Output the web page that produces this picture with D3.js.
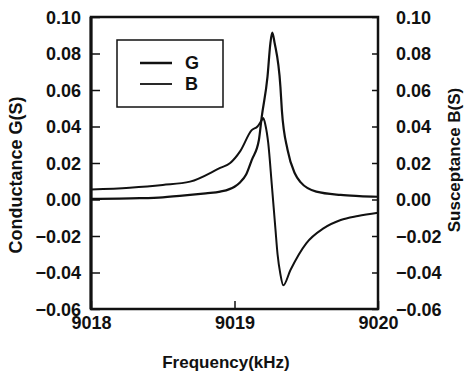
<!DOCTYPE html>
<html>
<head>
<meta charset="utf-8">
<script src="https://cdn.jsdelivr.net/npm/d3@7"></script>
<style>
html,body{margin:0;padding:0;background:#fff;}
svg text{font-family:"Liberation Sans",Arial,sans-serif;font-weight:bold;fill:#111;}
</style>
</head>
<body>
<svg id="chart" width="465" height="377"></svg>
<script>
// Conductance G (S)
const gFreq = [9018.00, 9018.34, 9018.50, 9018.69, 9018.80, 9018.90, 9019.00, 9019.04, 9019.08, 9019.12, 9019.17, 9019.19, 9019.23, 9019.25, 9019.263, 9019.28, 9019.32, 9019.33, 9019.37, 9019.42, 9019.46, 9019.57, 9019.74, 9019.87, 9020.00];
const gValues = [0.0003, 0.0007, 0.0012, 0.0025, 0.0034, 0.0043, 0.0070, 0.0095, 0.0135, 0.0216, 0.0326, 0.0454, 0.0673, 0.0856, 0.0914, 0.0856, 0.0618, 0.0490, 0.0271, 0.0144, 0.0095, 0.0043, 0.0025, 0.0019, 0.0015];
// Susceptance B (S)
const bFreq = [9018.00, 9018.27, 9018.50, 9018.69, 9018.90, 9018.97, 9019.04, 9019.12, 9019.16, 9019.19, 9019.20, 9019.215, 9019.235, 9019.26, 9019.285, 9019.30, 9019.32, 9019.34, 9019.39, 9019.50, 9019.62, 9019.74, 9019.86, 9020.00];
const bValues = [0.0055, 0.0065, 0.0080, 0.0098, 0.0173, 0.0200, 0.0265, 0.0380, 0.0400, 0.0435, 0.0446, 0.0410, 0.0310, 0.0080, -0.0160, -0.0300, -0.0410, -0.0470, -0.0386, -0.0240, -0.0158, -0.0112, -0.0090, -0.0072];
const xTicks = [9018, 9019, 9020];
const yTicks = [-0.06, -0.04, -0.02, 0.00, 0.02, 0.04, 0.06, 0.08, 0.10];
const legendLabels = ["G", "B"];

const svg = d3.select("#chart");
const L = 91, R = 378, T = 17, B = 309;
const x = d3.scaleLinear().domain([9018, 9020]).range([L, R]);
const y = d3.scaleLinear().domain([-0.06, 0.10]).range([B, T]);
const tickFs = "18px";

// Curves
const line = d3.line().x(d => x(d[0])).y(d => y(d[1])).curve(d3.curveMonotoneX);
const gData = gFreq.map((f, i) => [f, gValues[i]]);
const bData = bFreq.map((f, i) => [f, bValues[i]]);
svg.append("path").datum(bData).attr("d", line).attr("fill", "none").attr("stroke", "#111").attr("stroke-width", 2);
svg.append("path").datum(gData).attr("d", line).attr("fill", "none").attr("stroke", "#111").attr("stroke-width", 2.2);

// Left axis
const leftAxis = svg.append("g").attr("transform", `translate(${L},0)`)
  .call(d3.axisLeft(y).tickValues(yTicks).tickSize(-9).tickPadding(10).tickFormat(d3.format(".2f")));
// Right axis
const rightAxis = svg.append("g").attr("transform", `translate(${R},0)`)
  .call(d3.axisRight(y).tickValues(yTicks).tickSize(-6).tickPadding(18).tickFormat(d3.format(".2f")));
// Bottom axis
const bottomAxis = svg.append("g").attr("transform", `translate(0,${B})`)
  .call(d3.axisBottom(x).tickValues(xTicks).tickSize(-8).tickPadding(7).tickFormat(d3.format("d")));

[leftAxis, rightAxis, bottomAxis].forEach(a => {
  a.select(".domain").remove();
  a.selectAll(".tick line").attr("stroke", "#111").attr("stroke-width", 1.5);
  a.selectAll(".tick text").style("font-size", tickFs).attr("fill", "#111");
});
leftAxis.selectAll(".tick text").attr("dy", "0.36em");
rightAxis.selectAll(".tick text").attr("dy", "0.36em");
bottomAxis.selectAll(".tick text").attr("dy", "0.71em");

// Frame
svg.append("rect").attr("x", L).attr("y", T).attr("width", R - L).attr("height", B - T)
  .attr("fill", "none").attr("stroke", "#111").attr("stroke-width", 2.5);
svg.append("line").attr("x1", L).attr("x2", L).attr("y1", T).attr("y2", B).attr("stroke", "#111").attr("stroke-width", 3);

// Axis titles
svg.append("text").attr("x", 226).attr("y", 368).attr("text-anchor", "middle").style("font-size", "17px").text("Frequency(kHz)");
svg.append("text").attr("transform", "translate(22,175) rotate(-90)").attr("text-anchor", "middle").style("font-size", "18px").text("Conductance G(S)");
svg.append("text").attr("transform", "translate(460,160) rotate(-90)").attr("text-anchor", "middle").style("font-size", "17px").text("Susceptance B(S)");

// Legend
svg.append("rect").attr("x", 117).attr("y", 40).attr("width", 106).attr("height", 67)
  .attr("fill", "#fff").attr("stroke", "#111").attr("stroke-width", 1.5);
const legY = [63, 84];
legendLabels.forEach((lab, i) => {
  svg.append("line").attr("x1", 140).attr("x2", 172).attr("y1", legY[i]).attr("y2", legY[i])
    .attr("stroke", "#111").attr("stroke-width", i === 0 ? 2.5 : 1.8);
  svg.append("text").attr("x", 185).attr("y", legY[i]).attr("dy", "0.36em").style("font-size", "18px").text(lab);
});
</script>
</body>
</html>
